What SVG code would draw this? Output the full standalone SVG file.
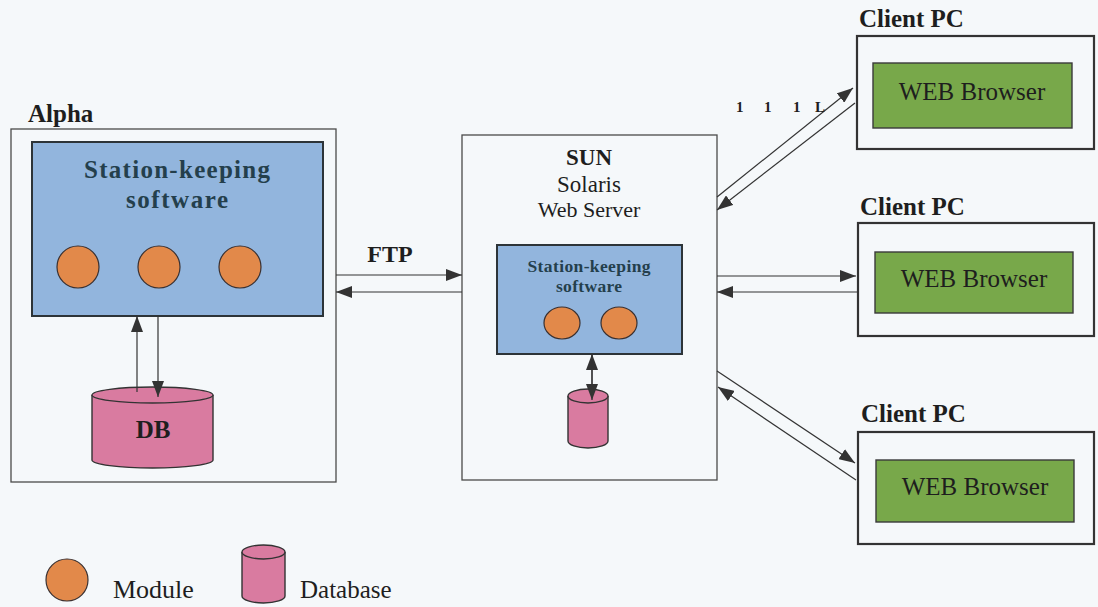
<svg xmlns="http://www.w3.org/2000/svg" width="1098" height="607" viewBox="0 0 1098 607">
  <style>
    .bg { fill: #f5f8fa; }
    .frame { fill: none; stroke: #4a4a4a; stroke-width: 1.3; }
    .client { fill: none; stroke: #333; stroke-width: 2.2; }
    .soft { fill: #92b5dd; stroke: #2d3438; stroke-width: 2; }
    .browser { fill: #78a84a; stroke: #3a3a3a; stroke-width: 1.4; }
    .module { fill: #e2894a; stroke: #3a3030; stroke-width: 1.2; }
    .db { fill: #d97ba0; stroke: #333; stroke-width: 1.4; }
    .link { fill: none; stroke: #333; stroke-width: 1.2; }
    .lbl { font-family: "Liberation Serif", "Times New Roman", serif; fill: #1e1e1e; }
    .b { font-weight: bold; }
    .sk { fill: #243f4c; font-weight: bold; }
  </style>
  <defs>
    <marker id="head" viewBox="0 0 16 12" refX="16" refY="6" markerWidth="16" markerHeight="12" markerUnits="userSpaceOnUse" orient="auto">
      <path d="M0,0 L16,6 L0,12 Z" fill="#333"/>
    </marker>
  </defs>

  <rect class="bg" x="0" y="0" width="1098" height="607"/>

  <!-- Alpha host -->
  <g id="alpha">
    <text class="lbl b" x="28" y="122" font-size="25">Alpha</text>
    <rect class="frame" x="11" y="129" width="325" height="353"/>
    <rect class="soft" x="32" y="142" width="291" height="174"/>
    <text class="lbl sk" x="177" y="178" font-size="25" text-anchor="middle" textLength="186">Station-keeping</text>
    <text class="lbl sk" x="177" y="208" font-size="25" text-anchor="middle" textLength="102">software</text>
    <circle class="module" cx="78" cy="267" r="21"/>
    <circle class="module" cx="159" cy="267" r="21"/>
    <circle class="module" cx="240" cy="267" r="21"/>
  </g>

  <g id="alpha-db">
    <path class="db" d="M92,395 L92,460 A60.5,8 0 0 0 213,460 L213,395"/>
    <ellipse class="db" cx="152.5" cy="395" rx="60.5" ry="8"/>
    <text class="lbl b" x="153" y="438" font-size="25" text-anchor="middle" fill="#222">DB</text>
  </g>

  <!-- SUN server -->
  <g id="sun">
    <rect class="frame" x="462" y="135" width="255" height="345"/>
    <text class="lbl b" x="589" y="165" font-size="23" text-anchor="middle">SUN</text>
    <text class="lbl" x="589" y="192" font-size="23" text-anchor="middle">Solaris</text>
    <text class="lbl" x="589" y="217" font-size="22" text-anchor="middle">Web Server</text>
    <rect class="soft" x="497" y="245" width="185" height="109" stroke-width="1.4"/>
    <text class="lbl sk" x="589" y="272" font-size="17.5" text-anchor="middle" textLength="123">Station-keeping</text>
    <text class="lbl sk" x="589" y="292" font-size="17.5" text-anchor="middle" textLength="66">software</text>
    <ellipse class="module" cx="562" cy="323" rx="18" ry="16"/>
    <ellipse class="module" cx="619" cy="323" rx="18" ry="16"/>
  </g>

  <g id="sun-db">
    <path class="db" d="M568,396 L568,441 A20,7 0 0 0 608,441 L608,396"/>
    <ellipse class="db" cx="588" cy="396" rx="20" ry="7"/>
  </g>

  <!-- Client PCs -->
  <g id="client-1">
    <text class="lbl b" x="859" y="27" font-size="25">Client PC</text>
    <rect class="client" x="857" y="36" width="237" height="113"/>
    <rect class="browser" x="873" y="63" width="199" height="65"/>
    <text class="lbl" x="972" y="100" font-size="25" text-anchor="middle">WEB Browser</text>
  </g>
  <g id="client-2">
    <text class="lbl b" x="860" y="215" font-size="25">Client PC</text>
    <rect class="client" x="858" y="223" width="236" height="113"/>
    <rect class="browser" x="875" y="252" width="198" height="61"/>
    <text class="lbl" x="974" y="287" font-size="25" text-anchor="middle">WEB Browser</text>
  </g>
  <g id="client-3">
    <text class="lbl b" x="861" y="422" font-size="25">Client PC</text>
    <rect class="client" x="858" y="432" width="236" height="112"/>
    <rect class="browser" x="876" y="460" width="198" height="62"/>
    <text class="lbl" x="975" y="495" font-size="25" text-anchor="middle">WEB Browser</text>
  </g>

  <!-- Connectors -->
  <g id="connectors">
    <line class="link" x1="137" y1="392" x2="137" y2="316" marker-end="url(#head)"/>
    <line class="link" x1="158" y1="316" x2="158" y2="397" marker-end="url(#head)"/>
    <line class="link" x1="336" y1="275" x2="462" y2="275" marker-end="url(#head)"/>
    <line class="link" x1="462" y1="292" x2="336" y2="292" marker-end="url(#head)"/>
    <line class="link" x1="592" y1="398" x2="592" y2="354" marker-end="url(#head)"/>
    <line class="link" x1="592" y1="354" x2="592" y2="400" marker-end="url(#head)"/>
    <line class="link" x1="717" y1="197" x2="853" y2="88" marker-end="url(#head)"/>
    <line class="link" x1="855" y1="103" x2="717" y2="210" marker-end="url(#head)"/>
    <line class="link" x1="717" y1="276" x2="856" y2="276" marker-end="url(#head)"/>
    <line class="link" x1="857" y1="292" x2="717" y2="292" marker-end="url(#head)"/>
    <line class="link" x1="717" y1="371" x2="855" y2="463" marker-end="url(#head)"/>
    <line class="link" x1="856" y1="480" x2="718" y2="387" marker-end="url(#head)"/>
    <text class="lbl b" x="390" y="262" font-size="24" text-anchor="middle">FTP</text>
    <g class="lbl b" font-size="15" fill="#222">
      <text x="736" y="112">1</text>
      <text x="764" y="112">1</text>
      <text x="793" y="112">1</text>
      <text x="815" y="112">L</text>
    </g>
  </g>

  <!-- Legend -->
  <g id="legend">
    <circle class="module" cx="67" cy="580" r="21"/>
    <text class="lbl" x="113" y="598" font-size="26">Module</text>
    <path class="db" d="M242,552 L242,596 A21.5,7 0 0 0 285,596 L285,552"/>
    <ellipse class="db" cx="263.5" cy="552" rx="21.5" ry="7"/>
    <text class="lbl" x="300" y="598" font-size="25">Database</text>
  </g>
</svg>
